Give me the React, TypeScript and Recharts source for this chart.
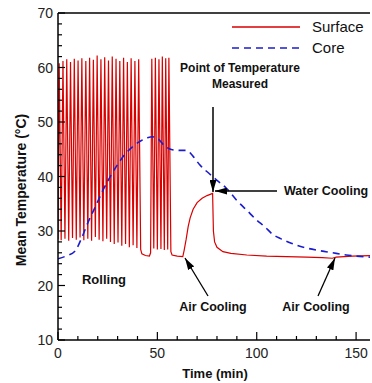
import React from 'react';
import { LineChart, Line, XAxis, YAxis, ReferenceLine } from 'recharts';

// surface temperature (rolling passes, air cooling, water cooling)
const surfaceTime = [
  0, 0.6, 1.6, 2.5, 3.5, 4.4, 5.4, 6.3, 7.3, 8.2, 9.2, 10.1, 11.1, 12.0, 13.0, 14.0,
  15.0, 15.9, 16.9, 17.8, 18.8, 19.7, 20.7, 21.6, 22.6, 23.5, 24.5, 25.4, 26.4, 27.3,
  28.3, 29.2, 30.2, 31.1, 32.1, 33.0, 34.0, 34.9, 35.9, 36.8, 37.8, 38.7, 39.7, 40.6,
  41.6, 42.2, 44.0, 46.0, 46.6, 47.2, 48.2, 49.0, 50.0, 50.8, 51.8, 52.5, 53.5, 54.2,
  55.2, 55.8, 56.8, 57.4, 60.0, 62.8, 63.5, 64.5, 65.5, 66.5, 68.0, 70.0, 72.5, 75.0,
  77.8, 78.2, 78.8, 80.0, 83.0, 87.0, 95.0, 105.0, 115.0, 125.0, 133.0, 138.0, 140.0,
  148.0, 157.0,
];
const surfaceTemp = [
  28.5, 60.8, 28.3, 61.2, 28.6, 61.5, 28.2, 61.0, 28.7, 61.6, 28.4, 61.3, 28.8, 61.7, 28.3, 61.2,
  28.6, 61.8, 28.2, 61.4, 28.9, 62.2, 28.4, 61.5, 28.1, 61.9, 28.6, 61.3, 28.0, 62.0,
  27.6, 61.6, 27.9, 61.2, 27.3, 61.8, 27.6, 61.0, 27.0, 61.7, 27.4, 61.2, 26.9, 61.5,
  26.6, 25.8, 25.5, 25.4, 26.0, 61.6, 26.8, 61.8, 26.6, 61.5, 26.7, 62.0, 26.5, 61.7,
  26.6, 61.8, 26.2, 25.6, 25.4, 25.3, 26.5, 28.5, 30.8, 32.4, 34.0, 35.2, 36.0, 36.5,
  36.9, 30.0, 28.0, 27.0, 26.2, 25.9, 25.6, 25.4, 25.3, 25.2, 25.1, 25.0, 25.2,
  25.4, 25.5,
];

// core temperature
const coreTime = [
  0, 4, 8.5, 12, 15, 18.6, 22, 26, 30, 34, 38, 42, 45, 47.5, 50, 53.7, 57.5, 61, 64.6,
  68, 71.2, 76.2, 80, 84.6, 90, 95, 100, 104, 108, 112, 116.4, 120, 124.8, 130, 134.8,
  140, 145, 150, 157,
];
const coreTemp = [
  24.9, 25.4, 26.3, 28.8, 31.5, 34.3, 37.0, 39.8, 42.2, 44.2, 45.6, 46.6, 47.1, 47.3, 47.0, 45.6, 44.9, 44.8, 44.8,
  43.7, 42.2, 40.5, 39.3, 37.9, 35.6, 33.8, 32.0, 30.8, 29.4, 28.6, 27.9, 27.4, 26.9, 26.5, 26.2,
  25.9, 25.6, 25.4, 25.2,
];

const xTicks = [0, 10, 20, 30, 40, 50, 60, 70, 80, 90, 100, 110, 120, 130, 140, 150];
const yTicks = [10, 12, 14, 16, 18, 20, 22, 24, 26, 28, 30, 32, 34, 36, 38, 40, 42, 44, 46, 48, 50, 52, 54, 56, 58, 60, 62, 64, 66, 68, 70];

const surfaceData = surfaceTime.map((t, i) => ({ t, v: surfaceTemp[i] }));
const coreData = coreTime.map((t, i) => ({ t, v: coreTemp[i] }));

const FONT = '"Liberation Sans", Arial, sans-serif';
const RED = '#d90000';
const BLUE = '#1c1ccf';

const XTick = (props: any) => {
  const { x, y, payload } = props;
  const major = payload.value % 50 === 0;
  return (
    <g>
      <line x1={x} x2={x} y1={y} y2={y - (major ? 8 : 4)} stroke="#000" strokeWidth={1.2} />
      {major && (
        <text x={x} y={y + 18} textAnchor="middle" fontSize={14} fontFamily={FONT} fill="#222">
          {payload.value}
        </text>
      )}
    </g>
  );
};

const YTick = (props: any) => {
  const { x, y, payload } = props;
  const major = payload.value % 10 === 0;
  return (
    <g>
      <line x1={x} x2={x + (major ? 7 : 4)} y1={y} y2={y} stroke="#000" strokeWidth={1.2} />
      {major && (
        <text x={x - 5} y={y + 5} textAnchor="end" fontSize={14} fontFamily={FONT} fill="#222">
          {payload.value}
        </text>
      )}
    </g>
  );
};

const bold = { fontFamily: FONT, fontWeight: 700, fill: '#111' } as const;

const Overlay: React.FC = () => (
  <svg width={372} height={383} style={{ position: 'absolute', left: 0, top: 0, pointerEvents: 'none' }}>
    <defs>
      <marker id="ah" viewBox="0 0 12 7" refX={12} refY={3.5} markerWidth={12} markerHeight={7} markerUnits="userSpaceOnUse" orient="auto">
        <path d="M0,0 L12,3.5 L0,7 z" fill="#000" />
      </marker>
    </defs>
    {/* legend */}
    <line x1={232} x2={300} y1={27} y2={27} stroke={RED} strokeWidth={1.3} />
    <text x={312} y={32} fontSize={15} fontFamily={FONT} fill="#111">Surface</text>
    <line x1={232} x2={300} y1={48} y2={48} stroke={BLUE} strokeWidth={1.6} strokeDasharray="7 5" />
    <text x={312} y={53} fontSize={15} fontFamily={FONT} fill="#111">Core</text>

    {/* annotations */}
    <text x={240} y={72} textAnchor="middle" fontSize={12} {...bold}>Point of Temperature</text>
    <text x={240} y={88} textAnchor="middle" fontSize={12} {...bold}>Measured</text>
    <line x1={213} y1={107} x2={213} y2={192} stroke="#000" strokeWidth={1.5} markerEnd="url(#ah)" />
    <line x1={277} y1={191} x2={215} y2={191} stroke="#000" strokeWidth={1.5} markerEnd="url(#ah)" />
    <text x={284} y={195} fontSize={12.5} {...bold}>Water Cooling</text>
    <text x={104} y={284} textAnchor="middle" fontSize={13} {...bold}>Rolling</text>
    <line x1={208} y1={296} x2={185} y2={258} stroke="#000" strokeWidth={1.3} markerEnd="url(#ah)" />
    <text x={213} y={311} textAnchor="middle" fontSize={12.5} {...bold}>Air Cooling</text>
    <line x1={318} y1={296} x2={335} y2={258} stroke="#000" strokeWidth={1.3} markerEnd="url(#ah)" />
    <text x={316} y={311} textAnchor="middle" fontSize={12.5} {...bold}>Air Cooling</text>

    {/* axis titles */}
    <text x={215} y={378} textAnchor="middle" fontSize={13} {...bold}>Time (min)</text>
    <text x={0} y={0} transform="translate(26,190) rotate(-90)" textAnchor="middle" fontSize={14} {...bold}>
      Mean Temperature (°C)
    </text>
  </svg>
);

const App: React.FC = () => {
  return (
    <div style={{ position: 'relative', width: 372, height: 383, background: '#fff' }}>
      <style>{'body{margin:0}'}</style>
      <LineChart width={372} height={383} margin={{ top: 13, right: 2, left: 0, bottom: 0 }}>
        <XAxis
          dataKey="t"
          type="number"
          domain={[0, 157]}
          allowDataOverflow
          ticks={xTicks}
          interval={0}
          height={43}
          tickSize={0}
          tickMargin={0}
          tickLine={false}
          tick={<XTick />}
          axisLine={{ stroke: '#000', strokeWidth: 1.5 }}
        />
        <YAxis
          type="number"
          domain={[10, 70]}
          allowDataOverflow
          ticks={yTicks}
          interval={0}
          width={58}
          tickSize={0}
          tickMargin={0}
          tickLine={false}
          tick={<YTick />}
          axisLine={{ stroke: '#000', strokeWidth: 1.5 }}
        />
        <ReferenceLine y={70} stroke="#000" strokeWidth={1.5} />
        <Line
          data={surfaceData}
          dataKey="v"
          type="linear"
          stroke={RED}
          strokeWidth={1.2}
          dot={false}
          isAnimationActive={false}
        />
        <Line
          data={coreData}
          dataKey="v"
          type="monotone"
          stroke={BLUE}
          strokeWidth={1.6}
          strokeDasharray="7 5"
          dot={false}
          isAnimationActive={false}
        />
      </LineChart>
      <Overlay />
    </div>
  );
};

export default App;
